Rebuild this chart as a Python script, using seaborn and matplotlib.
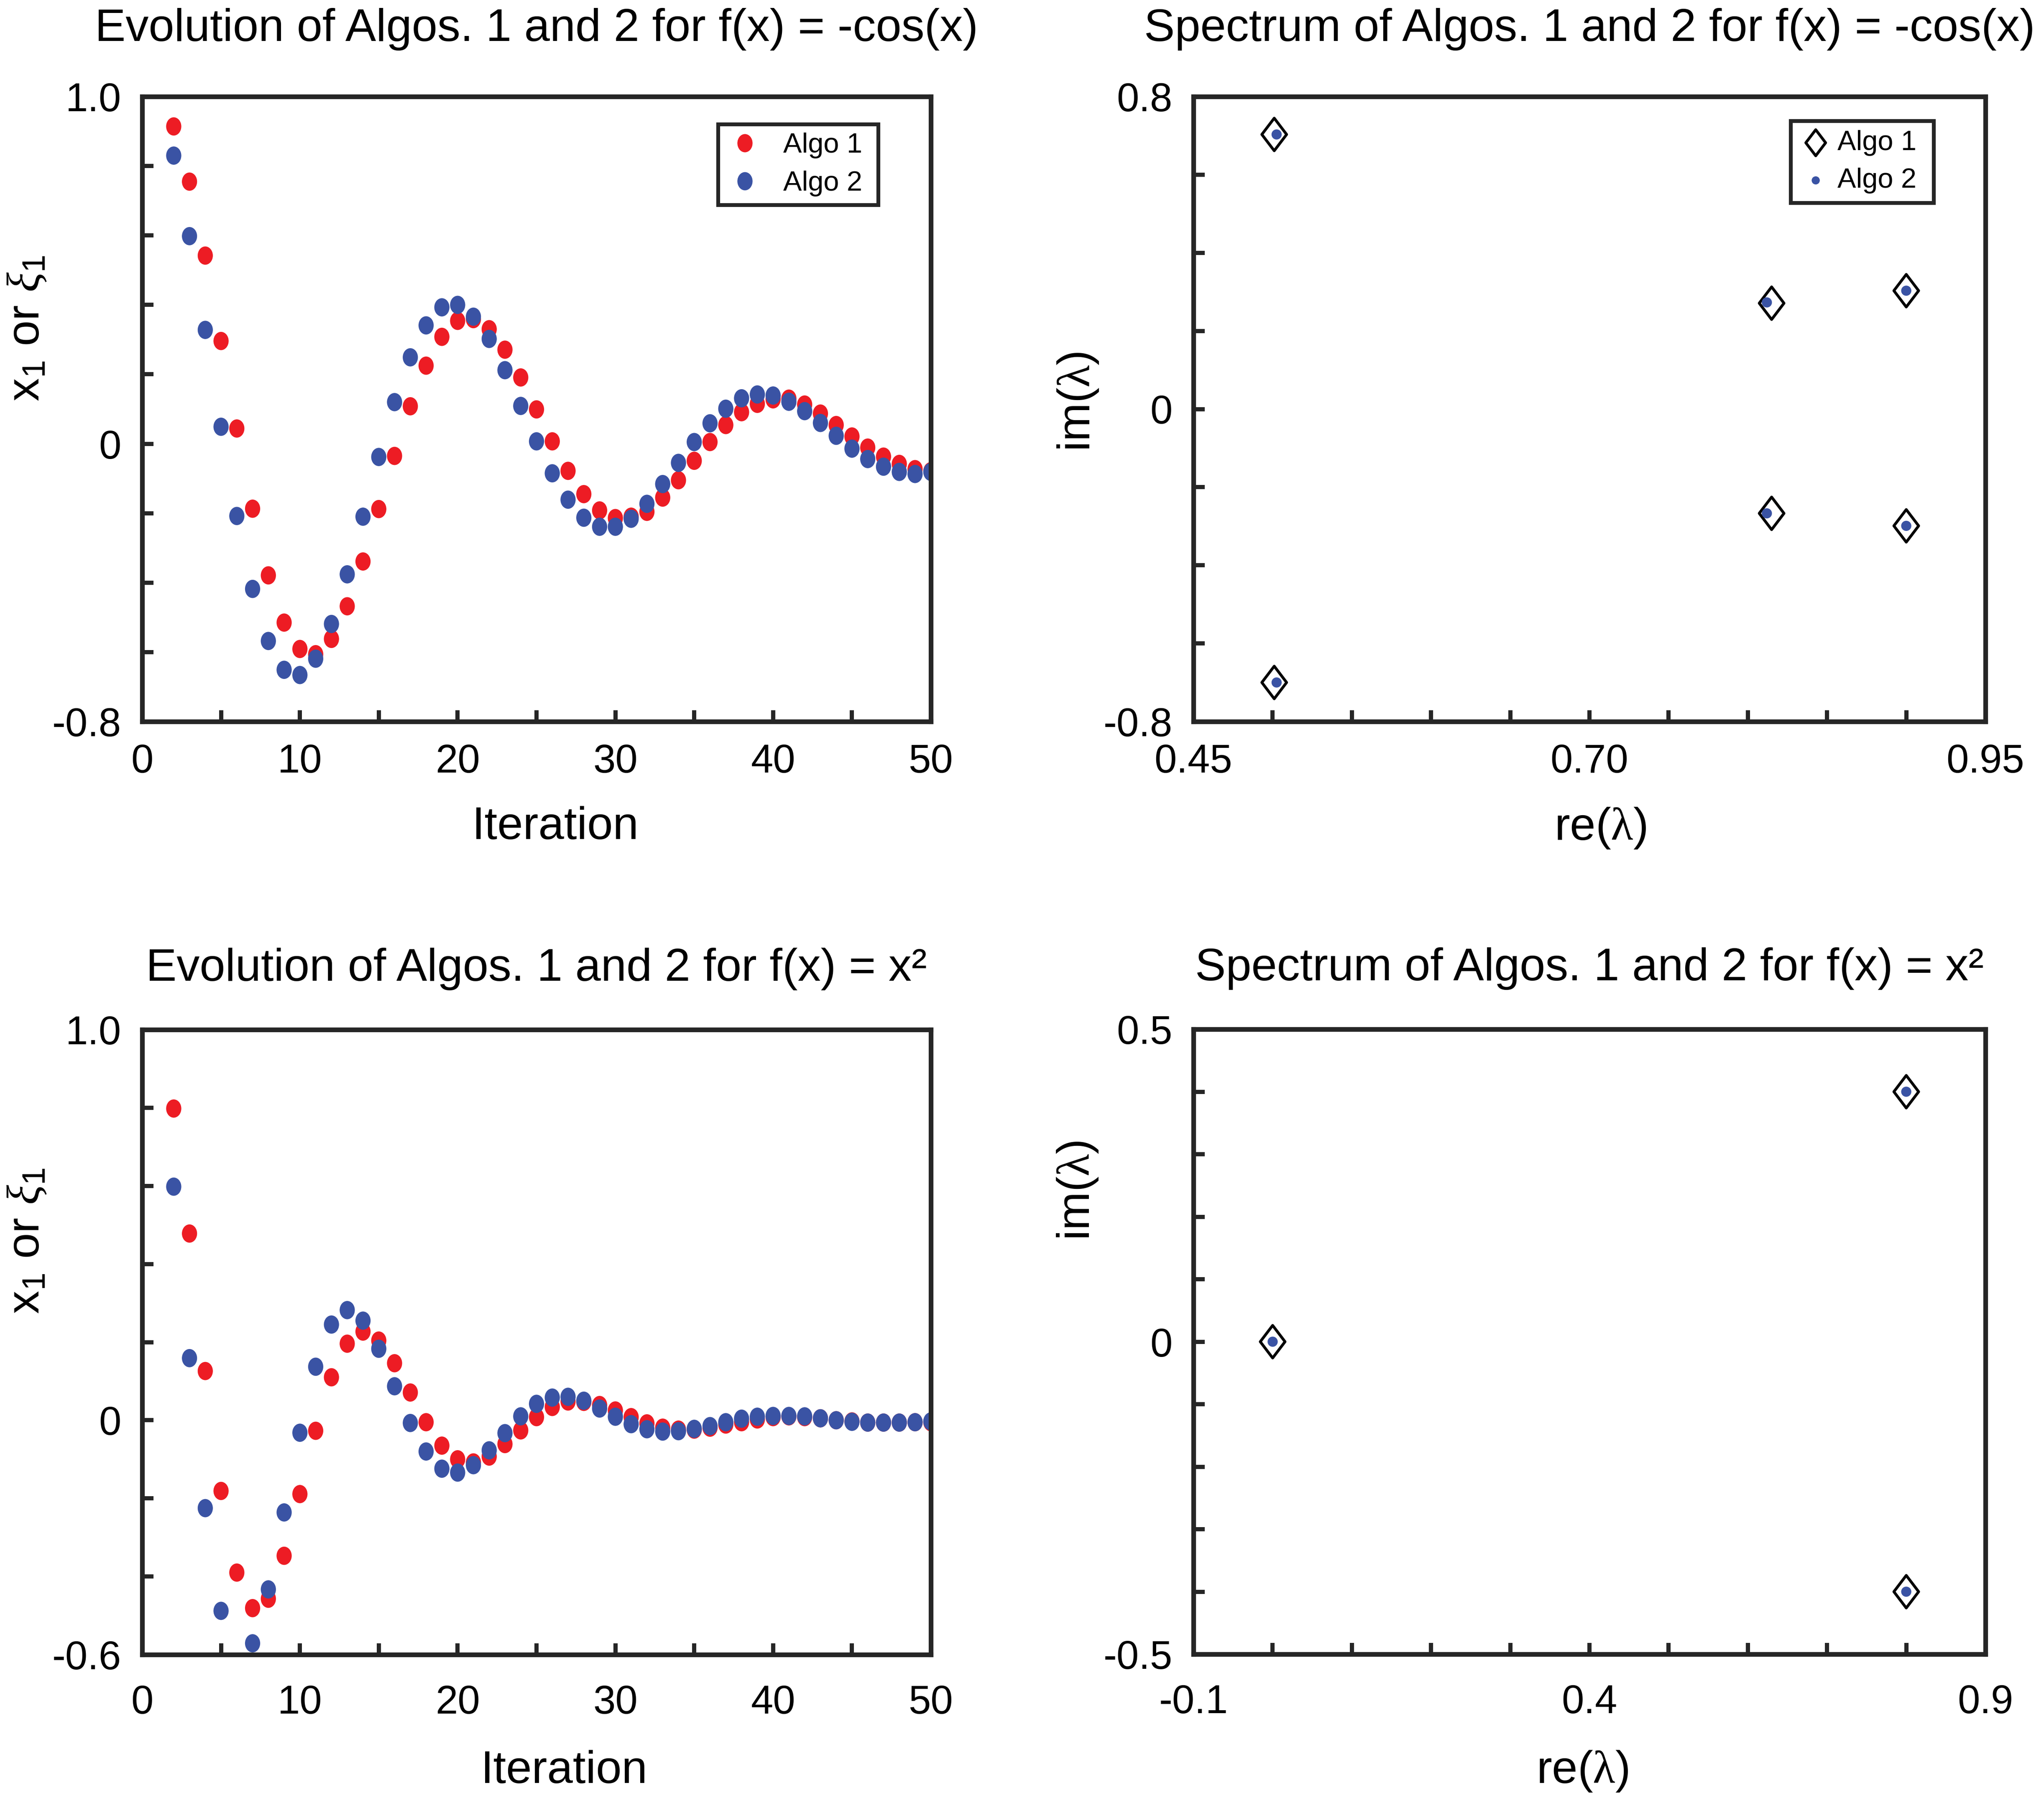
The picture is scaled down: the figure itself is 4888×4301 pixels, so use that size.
import numpy as np
import pandas as pd
import matplotlib
matplotlib.use("Agg")
import matplotlib.pyplot as plt
from matplotlib.path import Path
import seaborn as sns

# ---------------- data ----------------
iterations = list(range(2, 51))

cos_algo1 = [0.914, 0.755, 0.542, 0.296, 0.044, -0.187, -0.379, -0.515, -0.591, -0.606,
             -0.562, -0.468, -0.339, -0.188, -0.035, 0.108, 0.225, 0.308, 0.354, 0.359,
             0.330, 0.271, 0.191, 0.099,
             0.007, -0.078, -0.145, -0.192, -0.214, -0.210, -0.196, -0.155, -0.105, -0.049,
             0.005, 0.054, 0.091, 0.115, 0.128, 0.130, 0.113, 0.087, 0.054, 0.021,
             -0.011, -0.037, -0.058, -0.073, -0.079]
cos_algo2 = [0.830, 0.598, 0.328, 0.049, -0.208, -0.418, -0.568, -0.651, -0.666, -0.619,
             -0.519, -0.376, -0.210, -0.038, 0.120, 0.249, 0.341, 0.393, 0.400, 0.366,
             0.302, 0.212, 0.109, 0.007,
             -0.085, -0.161, -0.213, -0.239, -0.239, -0.216, -0.173, -0.116, -0.055, 0.005,
             0.059, 0.101, 0.131, 0.142, 0.139, 0.121, 0.094, 0.060, 0.023, -0.014,
             -0.044, -0.066, -0.081, -0.087, -0.081]

sq_algo1 = [0.798, 0.478, 0.126, -0.181, -0.390, -0.481, -0.457, -0.347, -0.189, -0.027,
            0.110, 0.196, 0.227, 0.204, 0.146, 0.071, -0.005, -0.065, -0.100, -0.108,
            -0.093, -0.061, -0.026, 0.008,
            0.034, 0.048, 0.047, 0.039, 0.025, 0.008, -0.008, -0.019, -0.024, -0.024,
            -0.019, -0.011, -0.005, 0.002, 0.008, 0.010, 0.008, 0.005, 0.000, -0.003,
            -0.006, -0.006, -0.006, -0.005, -0.005]
sq_algo2 = [0.598, 0.159, -0.225, -0.488, -0.680, -0.571, -0.433, -0.236, -0.032, 0.137,
            0.245, 0.282, 0.255, 0.183, 0.087, -0.007, -0.080, -0.124, -0.134, -0.115,
            -0.077, -0.033, 0.010, 0.042,
            0.058, 0.060, 0.050, 0.030, 0.009, -0.010, -0.023, -0.029, -0.028, -0.022,
            -0.015, -0.005, 0.004, 0.009, 0.011, 0.011, 0.010, 0.005, 0.000, -0.004,
            -0.006, -0.006, -0.006, -0.005, -0.003]

cos_re_algo1 = [0.501, 0.501, 0.815, 0.815, 0.900, 0.900]
cos_im_algo1 = [0.703, -0.700, 0.271, -0.267, 0.303, -0.299]
cos_re_algo2 = [0.5025, 0.5025, 0.812, 0.812, 0.900, 0.900]
cos_im_algo2 = [0.703, -0.700, 0.273, -0.267, 0.303, -0.299]

sq_re_algo1 = [0.0, 0.8, 0.8]
sq_im_algo1 = [0.0, 0.4, -0.4]
sq_re_algo2 = [0.0, 0.8, 0.8]
sq_im_algo2 = [0.0, 0.4, -0.4]

algo_names = ["Algo 1", "Algo 2"]

# ticks / tick labels
iter_ticks = [0, 5, 10, 15, 20, 25, 30, 35, 40, 45, 50]
iter_labels = ["0", "", "10", "", "20", "", "30", "", "40", "", "50"]
tl_yticks = [-0.8, -0.6, -0.4, -0.2, 0.0, 0.2, 0.4, 0.6, 0.8, 1.0]
tl_ylabels = ["-0.8", "", "", "", "0", "", "", "", "", "1.0"]
bl_yticks = [-0.6, -0.4, -0.2, 0.0, 0.2, 0.4, 0.6, 0.8, 1.0]
bl_ylabels = ["-0.6", "", "", "0", "", "", "", "", "1.0"]
tr_xticks = [0.45, 0.50, 0.55, 0.60, 0.65, 0.70, 0.75, 0.80, 0.85, 0.90, 0.95]
tr_xlabels = ["0.45", "", "", "", "", "0.70", "", "", "", "", "0.95"]
tr_yticks = [-0.8, -0.6, -0.4, -0.2, 0.0, 0.2, 0.4, 0.6, 0.8]
tr_ylabels = ["-0.8", "", "", "", "0", "", "", "", "0.8"]
br_xticks = [-0.1, 0.0, 0.1, 0.2, 0.3, 0.4, 0.5, 0.6, 0.7, 0.8, 0.9]
br_xlabels = ["-0.1", "", "", "", "", "0.4", "", "", "", "", "0.9"]
br_yticks = [-0.5, -0.4, -0.3, -0.2, -0.1, 0.0, 0.1, 0.2, 0.3, 0.4, 0.5]
br_ylabels = ["-0.5", "", "", "", "", "0", "", "", "", "", "0.5"]

# ---------------- style ----------------
sns.set_theme(style="white")
plt.rcParams["font.family"] = ["Liberation Sans", "DejaVu Sans"]
plt.rcParams["mathtext.fontset"] = "custom"
plt.rcParams["mathtext.rm"] = "Liberation Sans"
plt.rcParams["mathtext.it"] = "Liberation Serif:italic"
plt.rcParams["mathtext.sf"] = "Liberation Serif"
plt.rcParams["mathtext.bf"] = "Liberation Sans:bold"
plt.rcParams["text.color"] = "black"
plt.rcParams["axes.labelcolor"] = "black"

RED = "#ED1C24"
BLUE = "#3A53A4"
SPINE = "#262626"

circ = Path.unit_circle()
ELLIPSE = Path(circ.vertices * np.array([0.83, 1.0]), circ.codes)
DIAMOND = Path([(0, 1), (0.76, 0), (0, -1), (-0.76, 0), (0, 1)],
               [Path.MOVETO, Path.LINETO, Path.LINETO, Path.LINETO, Path.CLOSEPOLY])

W, H = 4888, 4301
DPI = 300
fig = plt.figure(figsize=(W / DPI, H / DPI), dpi=DPI)
fig.patch.set_facecolor("white")

def px_axes(x0, y0, x1, y1):
    return fig.add_axes([x0 / W, 1 - y1 / H, (x1 - x0) / W, (y1 - y0) / H])

ax_tl = px_axes(340, 231, 2226, 1726)
ax_tr = px_axes(2854, 231, 4748, 1726)
ax_bl = px_axes(340, 2463, 2226, 3958)
ax_br = px_axes(2854, 2462, 4748, 3957)

TICK_FS = 23
LABEL_FS = 26.5
TITLE_FS = 26.4

def style_axes(ax, xticks, xlabels, yticks, ylabels, xlim, ylim, xpad):
    ax.set_xlim(*xlim)
    ax.set_ylim(*ylim)
    ax.set_xticks(xticks)
    ax.set_xticklabels(xlabels)
    ax.set_yticks(yticks)
    ax.set_yticklabels(ylabels)
    for sp in ax.spines.values():
        sp.set_visible(True)
        sp.set_color(SPINE)
        sp.set_linewidth(2.7)
    ax.tick_params(axis="both", which="major", direction="in", length=6.5, width=2.4,
                   color=SPINE, labelsize=TICK_FS, labelcolor="black",
                   top=False, right=False, left=True, bottom=True)
    ax.tick_params(axis="x", pad=xpad)
    ax.tick_params(axis="y", pad=12)
    ax.set_facecolor("white")

def evolution(ax, a1, a2, title, ylim, yticks, ylabels, show_legend, title_pad,
              xpad, xlabelpad, xlabel_x, ylabel_y):
    df = pd.DataFrame({
        "Iteration": iterations + iterations,
        "value": a1 + a2,
        "algo": [algo_names[0]] * len(a1) + [algo_names[1]] * len(a2),
    })
    sns.scatterplot(data=df, x="Iteration", y="value", hue="algo",
                    palette={algo_names[0]: RED, algo_names[1]: BLUE},
                    marker=ELLIPSE, s=110, linewidth=0, edgecolor="none",
                    ax=ax, legend=show_legend)
    style_axes(ax, iter_ticks, iter_labels, yticks, ylabels, (0, 50), ylim, xpad)
    ax.set_xlabel("Iteration", fontsize=LABEL_FS, labelpad=xlabelpad)
    ax.set_ylabel(r"$\mathrm{x}_1$ or $\xi_1$", fontsize=LABEL_FS, labelpad=2)
    ax.xaxis.label.set_x(xlabel_x)
    ax.yaxis.label.set_y(ylabel_y)
    ax.set_title(title, fontsize=TITLE_FS, pad=title_pad)
    if show_legend:
        sns.move_legend(ax, "upper right", bbox_to_anchor=(0.9332, 0.9559), title=None,
                        frameon=True, fontsize=16, borderpad=0.3, handlelength=1.3,
                        handletextpad=0.73, labelspacing=0.44, borderaxespad=0,
                        fancybox=False, framealpha=1, edgecolor=SPINE)
        leg = ax.get_legend()
        leg.get_frame().set_linewidth(2.2)
        for t in leg.get_texts():
            t.set_text(t.get_text() + " ")

def spectrum(ax, re1, im1, re2, im2, title, xlim, ylim, xticks, xlabels, yticks, ylabels,
             show_legend, title_pad, xpad, xlabelpad, xlabel_x, ylabel_y):
    d1 = pd.DataFrame({"re": re1, "im": im1})
    d2 = pd.DataFrame({"re": re2, "im": im2})
    sns.scatterplot(data=d1, x="re", y="im", marker=DIAMOND, s=350,
                    facecolor="none", edgecolor="black", linewidth=1.6,
                    ax=ax, label=algo_names[0], legend=False)
    sns.scatterplot(data=d2, x="re", y="im", marker="o", s=34,
                    color=BLUE, edgecolor="none", linewidth=0,
                    ax=ax, label=algo_names[1], legend=False)
    style_axes(ax, xticks, xlabels, yticks, ylabels, xlim, ylim, xpad)
    ax.set_xlabel(r"re($\mathsf{\lambda}$)", fontsize=LABEL_FS, labelpad=xlabelpad)
    ax.set_ylabel(r"im($\mathsf{\lambda}$)", fontsize=LABEL_FS, labelpad=2)
    ax.xaxis.label.set_x(xlabel_x)
    ax.yaxis.label.set_y(ylabel_y)
    ax.set_title(title, fontsize=TITLE_FS, pad=title_pad)
    if show_legend:
        leg = ax.legend(loc="upper right", bbox_to_anchor=(0.9345, 0.9612), frameon=True,
                        fontsize=16, borderpad=0.33, handlelength=1.15, handletextpad=0.21,
                        labelspacing=0.42, borderaxespad=0, fancybox=False, framealpha=1,
                        edgecolor=SPINE, markerscale=0.8)
        leg.get_frame().set_linewidth(2.2)
        for t in leg.get_texts():
            t.set_text(t.get_text() + " ")
    else:
        lg = ax.get_legend()
        if lg is not None:
            lg.remove()

evolution(ax_tl, cos_algo1, cos_algo2, "Evolution of Algos. 1 and 2 for f(x) = -cos(x)",
          (-0.8, 1.0), tl_yticks, tl_ylabels, True, 32, 12.5, 14.5, 0.524, 0.629)
evolution(ax_bl, sq_algo1, sq_algo2, "Evolution of Algos. 1 and 2 for f(x) = x\u00b2",
          (-0.6, 1.0), bl_yticks, bl_ylabels, False, 28, 17, 16, 0.535, 0.662)
spectrum(ax_tr, cos_re_algo1, cos_im_algo1, cos_re_algo2, cos_im_algo2,
         "Spectrum of Algos. 1 and 2 for f(x) = -cos(x)", (0.45, 0.95), (-0.8, 0.8),
         tr_xticks, tr_xlabels, tr_yticks, tr_ylabels, True, 32, 12.5, 14.5, 0.514, 0.512)
spectrum(ax_br, sq_re_algo1, sq_im_algo1, sq_re_algo2, sq_im_algo2,
         "Spectrum of Algos. 1 and 2 for f(x) = x\u00b2", (-0.1, 0.9), (-0.5, 0.5),
         br_xticks, br_xlabels, br_yticks, br_ylabels, False, 28, 17, 16, 0.491, 0.742)

fig.savefig("out.png", dpi=DPI, facecolor="white")
